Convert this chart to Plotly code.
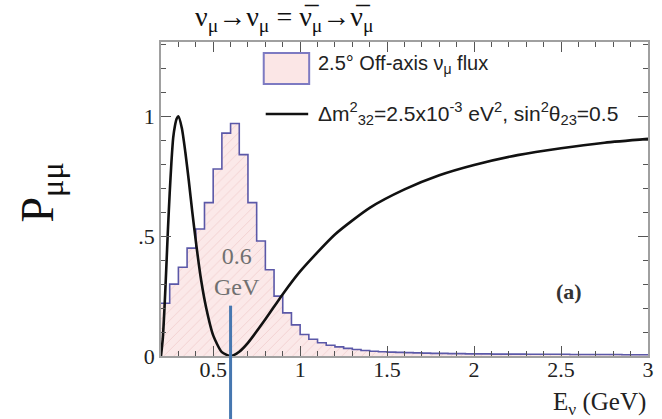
import plotly.graph_objects as go

# ---------------- data ----------------
bin_left_edges = [0.20, 0.25, 0.30, 0.35, 0.40, 0.45, 0.50, 0.55, 0.60, 0.65,
                  0.70, 0.75, 0.80, 0.85, 0.90, 0.95, 1.00, 1.05, 1.10, 1.15,
                  1.20, 1.25, 1.30, 1.35, 1.40, 1.45, 1.50, 1.55, 1.60, 1.65,
                  1.70, 1.75, 1.80, 1.85, 1.90, 1.95, 2.00, 2.05, 2.10, 2.15,
                  2.20, 2.25, 2.30, 2.35, 2.40, 2.45, 2.50, 2.55, 2.60, 2.65,
                  2.70, 2.75, 2.80, 2.85, 2.90, 2.95]
bin_right_end = 3.0
flux_values = [0.22, 0.30, 0.37, 0.45, 0.53, 0.64, 0.78, 0.93, 0.97, 0.84,
               0.64, 0.48, 0.36, 0.25, 0.18, 0.13, 0.09, 0.07, 0.055, 0.045,
               0.038, 0.032, 0.027, 0.023, 0.020, 0.018, 0.016, 0.015, 0.014, 0.013,
               0.012, 0.011, 0.011, 0.010, 0.010, 0.009, 0.009, 0.009, 0.008, 0.008,
               0.008, 0.008, 0.007, 0.007, 0.007, 0.007, 0.007, 0.006, 0.006, 0.006,
               0.006, 0.006, 0.006, 0.005, 0.005, 0.005]

energy = [0.20, 0.21, 0.22, 0.23, 0.24, 0.25, 0.26, 0.27, 0.28, 0.29, 0.30,
          0.32, 0.34, 0.36, 0.38, 0.40, 0.43, 0.46, 0.50, 0.55, 0.60, 0.65,
          0.70, 0.80, 0.90, 1.00, 1.20, 1.40, 1.60, 1.80, 2.00, 2.25, 2.50,
          2.75, 3.00]
p_mumu = [0.00, 0.07, 0.20, 0.36, 0.53, 0.68, 0.81, 0.91, 0.96, 0.99, 1.00,
          0.95, 0.85, 0.73, 0.60, 0.48, 0.32, 0.20, 0.086, 0.016, 0.00, 0.018,
          0.055, 0.153, 0.258, 0.353, 0.507, 0.618, 0.695, 0.754, 0.797, 0.838, 0.867,
          0.890, 0.906]

x_tick_vals = [0.5, 1, 1.5, 2, 2.5, 3]
x_tick_text = ["0.5", "1", "1.5", "2", "2.5", "3"]
y_tick_vals = [0, 0.5, 1]
y_tick_text = ["0", ".5", "1"]

peak_energy = 0.6
peak_marker_top = 0.21

x_range = [0.2, 3.0]
y_range = [0, 1.31]

# ---------------- layout geometry ----------------
W, H = 662, 419
ML, MR, MT, MB = 161, 8, 42, 63
PW, PH = W - ML - MR, H - MT - MB


def px_x(px):
    return (px - ML) / PW


def px_y(py):
    return (H - MB - py) / PH


SERIF = "Liberation Serif, Times New Roman, serif"
SANS = "Liberation Sans, Arial, sans-serif"

fig = go.Figure()

fig.add_trace(go.Scatter(
    x=bin_left_edges + [bin_right_end],
    y=flux_values + [flux_values[-1]],
    mode="lines",
    line=dict(shape="hv", color="#5b58a8", width=1.6),
    fill="tozeroy",
    fillcolor="#fbe9e9",
    fillpattern=dict(shape="/", fgcolor="#e7b3b3", bgcolor="#fbe9e9",
                     size=7, solidity=0.12),
    showlegend=False,
    hoverinfo="skip",
))

fig.add_trace(go.Scatter(
    x=energy, y=p_mumu, mode="lines",
    line=dict(color="#111111", width=2.6, shape="spline", smoothing=0.6),
    showlegend=False, hoverinfo="skip",
))

axis_common = dict(
    showline=True, linecolor="#a0a0a0", linewidth=1.5, mirror="ticks",
    ticks="inside", ticklen=10, tickwidth=1, tickcolor="#555555",
    showgrid=False, zeroline=False,
    tickfont=dict(family=SERIF, size=22, color="#222222"),
)

fig.update_xaxes(range=x_range, tickmode="array", tickvals=x_tick_vals,
                 ticktext=x_tick_text, ticklabelstandoff=-7,
                 minor=dict(dtick=0.1, tick0=0, ticks="inside", ticklen=5,
                            tickcolor="#555555", showgrid=False),
                 **axis_common)
fig.update_yaxes(range=y_range, tickmode="array", tickvals=y_tick_vals,
                 ticktext=y_tick_text,
                 minor=dict(dtick=0.1, tick0=0, ticks="inside", ticklen=5,
                            tickcolor="#555555", showgrid=False),
                 **axis_common)

# vertical marker line at 0.6 GeV (extends below the frame)
mx = (peak_energy - x_range[0]) / (x_range[1] - x_range[0])
fig.add_shape(type="line", xref="paper", yref="paper",
              x0=mx, x1=mx, y0=px_y(H + 5), y1=peak_marker_top / y_range[1],
              line=dict(color="#4677b0", width=3))

annotations = [
    dict(text="ν<sub>μ</sub>→ν<sub>μ</sub> = ν̅<sub>μ</sub>→ν̅<sub>μ</sub>",
         x=px_x(286), y=px_y(18), font=dict(family=SERIF, size=28, color="#111")),
    dict(text="P<sub>μμ</sub>", x=px_x(40), y=px_y(192), textangle=-90,
         font=dict(family=SERIF, size=46, color="#111")),
    dict(text="E<sub>ν</sub> (GeV)", x=px_x(605), y=px_y(403),
         font=dict(family=SERIF, size=25, color="#222")),
    dict(text="0.6<br>GeV", x=px_x(238), y=px_y(271),
         font=dict(family=SERIF, size=24, color="#707070")),
    dict(text="<b>(a)</b>", x=px_x(574), y=px_y(291),
         font=dict(family=SERIF, size=22, color="#333")),
    dict(text="2.5° Off-axis ν<sub>μ</sub> flux", x=px_x(318), y=px_y(64),
         xanchor="left", font=dict(family=SANS, size=20, color="#222")),
    dict(text="Δm<sup>2</sup><sub>32</sub>=2.5x10<sup>-3</sup> eV<sup>2</sup>, "
              "sin<sup>2</sup>θ<sub>23</sub>=0.5",
         x=px_x(318), y=px_y(114), xanchor="left",
         font=dict(family=SANS, size=21, color="#222")),
]
for a in annotations:
    a.setdefault("xanchor", "center")
    a.setdefault("yanchor", "middle")
    fig.add_annotation(xref="paper", yref="paper", showarrow=False, **a)

# legend glyphs
fig.add_shape(type="rect", xref="paper", yref="paper",
              x0=px_x(265), x1=px_x(311), y0=px_y(84), y1=px_y(53),
              fillcolor="#fbe6e6", line=dict(color="#7d7ac2", width=2))
fig.add_shape(type="line", xref="paper", yref="paper",
              x0=px_x(267), x1=px_x(310), y0=px_y(114), y1=px_y(114),
              line=dict(color="#111", width=2.6))

fig.update_layout(
    width=W, height=H,
    margin=dict(l=ML, r=MR, t=MT, b=MB, pad=0),
    paper_bgcolor="white", plot_bgcolor="white",
    showlegend=False,
)

fig.write_html("out.html",
               config={"displayModeBar": False},
               post_script="document.body.style.margin='0px';")
